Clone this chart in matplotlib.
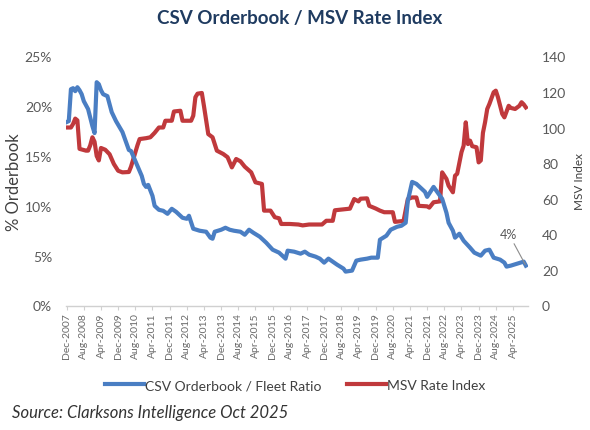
import matplotlib
matplotlib.use("Agg")
import matplotlib.pyplot as plt
from matplotlib.ticker import FuncFormatter, MultipleLocator

# ---- data (month offsets from Dec-2007) ----
blue_months = [0, 1, 2, 3, 4, 5, 6, 7, 8, 10, 12, 13, 14, 15, 16, 17, 19, 21, 23, 26,
               28, 29, 30, 31, 33, 35, 36, 37, 38, 40, 41, 43, 45, 47, 49, 51, 54, 56, 57, 59,
               62, 65, 67, 68, 69, 72, 74, 76, 78, 81, 83, 85, 87, 90, 93, 96, 99, 101, 102, 103,
               106, 109, 111, 113, 116, 118, 120, 122, 124, 126, 129, 130, 133, 135, 137, 140, 142, 145, 146, 149,
               151, 154, 156, 158, 159, 161, 163, 165, 167, 168, 171, 173, 175, 177, 178, 180, 181, 183, 185, 188,
               190, 193, 195, 197, 199, 202, 204, 205, 207, 210, 213, 214]
blue_values = [18.4, 18.5, 21.7, 21.8, 21.5, 21.9, 21.6, 21.2, 20.5, 19.7, 18.0, 17.3, 22.4, 22.2, 21.6, 21.2, 21.0, 19.4, 18.5, 17.4,
               16.2, 15.6, 15.5, 15.0, 14.0, 13.0, 12.2, 11.9, 12.1, 11.0, 10.0, 9.6, 9.5, 9.2, 9.7, 9.4, 8.8, 8.7, 9.0, 7.7,
               7.5, 7.4, 6.8, 6.7, 7.4, 7.6, 7.8, 7.6, 7.5, 7.4, 7.1, 7.6, 7.3, 6.9, 6.3, 5.6, 5.3, 4.9, 4.7, 5.5,
               5.4, 5.2, 5.4, 5.1, 4.9, 4.7, 4.3, 4.7, 4.4, 4.1, 3.7, 3.4, 3.5, 4.5, 4.6, 4.7, 4.8, 4.8, 6.6, 7.0,
               7.6, 7.9, 8.0, 8.3, 10.5, 12.4, 12.2, 11.8, 11.4, 10.9, 11.9, 11.3, 10.7, 9.3, 8.3, 7.5, 6.8, 7.2, 6.5, 5.8,
               5.3, 5.0, 5.5, 5.6, 4.8, 4.6, 4.3, 3.9, 4.0, 4.2, 4.4, 4.0]

red_months = [0, 2, 3, 4, 5, 6, 9, 10, 11, 12, 13, 14, 15, 16, 18, 20, 22, 24, 26, 29,
              30, 32, 33, 34, 37, 39, 41, 43, 45, 46, 49, 50, 53, 54, 58, 59, 60, 61, 63, 64,
              66, 68, 70, 73, 75, 77, 79, 81, 83, 86, 88, 91, 92, 95, 97, 99, 100, 104, 108, 110,
              113, 119, 121, 124, 125, 132, 134, 136, 137, 140, 141, 144, 146, 148, 152, 153, 157, 159, 161, 163,
              164, 168, 169, 171, 174, 175, 177, 178, 180, 181, 182, 184, 185, 186, 187, 188, 189, 191, 192, 193,
              194, 195, 196, 197, 199, 200, 201, 203, 204, 206, 207, 209, 211, 212, 213, 214]
red_values = [100, 100, 102, 105, 104, 88, 87, 87, 90, 94.5, 92, 84, 81.5, 88.5, 87.5, 85, 79.5, 75.7, 74.8, 75,
              78, 86, 90, 93.5, 94, 94.5, 97, 100, 100, 103.8, 103.8, 109, 109.4, 103.8, 103.8, 106.6, 117, 119, 119.4, 112,
              96.3, 94.5, 87, 85.1, 83.3, 77.6, 82.3, 81, 78, 74.8, 69.2, 68.3, 53.3, 53.3, 49.6, 49, 45.8, 45.8, 45.5, 45,
              45.5, 45.5, 47.6, 47.6, 53.5, 54.4, 59.8, 58.5, 60, 60.2, 56, 54.5, 53.3, 52.4, 52.4, 47, 47.5, 59.8, 60.7, 60.7,
              56, 55.7, 55, 58, 58.5, 74.8, 71.1, 67.3, 63.6, 72.9, 74, 86.1, 89.8, 102.9, 90.7, 92.6, 89.5, 88.9, 80.4, 81.5,
              97, 103, 110.4, 113.2, 119.8, 120.7, 117, 107.6, 105.7, 112.2, 111, 110.4, 112.2, 114.2, 113, 111.3]

tick_labels = ["Dec-2007", "Aug-2008", "Apr-2009", "Dec-2009", "Aug-2010", "Apr-2011", "Dec-2011",
               "Aug-2012", "Apr-2013", "Dec-2013", "Aug-2014", "Apr-2015", "Dec-2015", "Aug-2016",
               "Apr-2017", "Dec-2017", "Aug-2018", "Apr-2019", "Dec-2019", "Aug-2020", "Apr-2021",
               "Dec-2021", "Aug-2022", "Apr-2023", "Dec-2023", "Aug-2024", "Apr-2025"]
tick_step = 8

BLUE = "#4A7EC3"
RED = "#C0393C"
GRAY = "#595959"
FONT = "Lato"

plt.rcParams['font.family'] = [FONT, 'DejaVu Sans']

fig = plt.figure(figsize=(5.9, 4.31), dpi=100)
ax = fig.add_axes([66 / 590, (431 - 306.5) / 431, (528 - 66) / 590, (306.5 - 57.3) / 431])
ax2 = ax.twinx()

ax.plot(blue_months, blue_values, color=BLUE, lw=3.0, solid_joinstyle='round',
        label="CSV Orderbook / Fleet Ratio", zorder=3)
ax2.plot(red_months, red_values, color=RED, lw=3.0, solid_joinstyle='round',
         label="MSV Rate Index", zorder=2)
ax.set_zorder(ax2.get_zorder() + 1)
ax.patch.set_visible(False)

ax.set_xlim(-0.3, 215)
ax.set_ylim(0, 25)
ax2.set_ylim(0, 140)
ax.yaxis.set_major_locator(MultipleLocator(5))
ax.yaxis.set_major_formatter(FuncFormatter(lambda v, p: f"{v:.0f}%"))
ax2.yaxis.set_major_locator(MultipleLocator(20))

ticks = [i * tick_step for i in range(len(tick_labels))]
ax.set_xticks(ticks)
ax.set_xticklabels(tick_labels, rotation=90, fontsize=7.5, color="#6A6A6A")

for a in (ax, ax2):
    for s in ("top", "left", "right", "bottom"):
        a.spines[s].set_visible(False)
ax.spines["bottom"].set_visible(True)
ax.spines["bottom"].set_color("#D0D0D0")
ax.spines["bottom"].set_linewidth(1.0)
ax.tick_params(axis='x', length=3, color="#D0D0D0", pad=2)
ax.tick_params(axis='y', length=0, labelsize=10, labelcolor=GRAY, pad=10)
ax2.tick_params(axis='y', length=0, labelsize=10, labelcolor=GRAY, pad=10)

ax.set_ylabel("% Orderbook", fontsize=12, color="#404040")
ax.yaxis.set_label_coords((22 - 66) / 462, 0.5)
ax2.set_ylabel("MSV Index", fontsize=8.5, color="#404040")
ax2.yaxis.set_label_coords((574 - 66) / 462, 0.5)

# annotation
ax.annotate("4%", xy=(blue_months[-1], blue_values[-1]), xytext=(206, 6.6),
            fontsize=9, color=GRAY, ha='center', va='bottom',
            arrowprops=dict(arrowstyle='-', color="#8C8C8C", lw=0.8,
                            shrinkA=1, shrinkB=1))

fig.text(0.508, 0.958, "CSV Orderbook / MSV Rate Index", ha='center', va='center',
         fontsize=13.5, fontweight='bold', color="#1F3B60")

h1, l1 = ax.get_legend_handles_labels()
h2, l2 = ax2.get_legend_handles_labels()
fig.legend(h1 + h2, l1 + l2, loc='center', bbox_to_anchor=(0.50, 0.104), ncol=2,
           frameon=False, fontsize=10, handlelength=2.8, handletextpad=0.1,
           columnspacing=1.8, labelcolor="#404040")

fig.text(12 / 590, 1 - 413 / 431, "Source: Clarksons Intelligence Oct 2025", ha='left',
         va='center', fontsize=12, style='italic', color="#333333")

fig.savefig("out.png", dpi=100)
